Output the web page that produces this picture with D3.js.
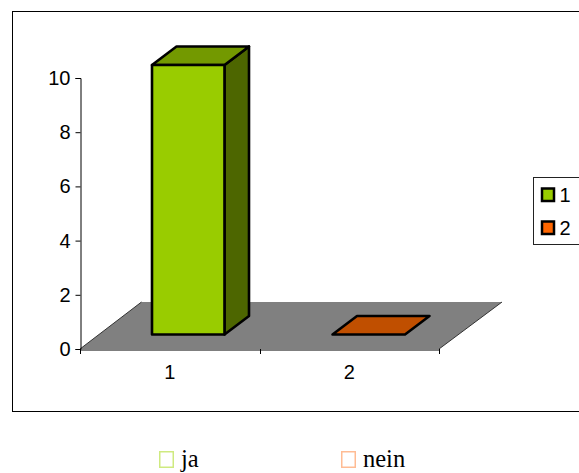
<!DOCTYPE html>
<html><head><meta charset="utf-8">
<script src="https://cdn.jsdelivr.net/npm/d3@7/dist/d3.min.js"></script>
<style>html,body{margin:0;padding:0;background:#fff;overflow:hidden}svg{display:block}</style>
</head><body><div id="c"></div>
<script>
const categories = ["1", "2"];
const values = [10, 0];
const yTicks = [0, 2, 4, 6, 8, 10];
const frontColors = ["#99CC00", "#C04F00"];
const topColors = ["#739900", "#C04F00"];
const sideColors = ["#4D6600", "#602800"];
const legendColors = ["#99CC00", "#FF6600"];
const legendLabels = ["1", "2"];
const noteLabels = ["ja", "nein"];
const noteColors = ["#CFEA80", "#FFBC94"];

const W = 579, H = 473;
const svg = d3.select("#c").append("svg").attr("width", W).attr("height", H);
const font = "'Liberation Sans', Arial, sans-serif";
const axisSize = 20;

svg.append("rect").attr("x", 12.5).attr("y", 11.5).attr("width", 600).attr("height", 400)
  .attr("fill", "#fff").attr("stroke", "#000");

const y = d3.scaleLinear().domain([0, 10]).range([349, 78]);
const x = d3.scaleBand().domain(categories).range([80, 439]);
const floorDX = 61.5, floorDY = -47;
const lineGen = d3.line();

// floor
svg.append("path")
  .attr("d", lineGen([[x.range()[0], y(0)], [x.range()[0] + floorDX, y(0) + floorDY],
    [x.range()[1] + floorDX + 1.5, y(0) + floorDY], [x.range()[1], y(0)]]) + "Z")
  .attr("fill", "#808080").attr("stroke", "none");
svg.append("path")
  .attr("d", lineGen([[x.range()[0], y(0)], [x.range()[0] + floorDX, y(0) + floorDY]]))
  .attr("stroke", "#333").attr("fill", "none");
svg.append("path")
  .attr("d", lineGen([[x.range()[1], y(0)], [x.range()[1] + floorDX + 1.5, y(0) + floorDY]]))
  .attr("stroke", "#333").attr("fill", "none");

// axes
const yAxis = d3.axisLeft(y).tickValues(yTicks).tickSize(5).tickPadding(5);
const gy = svg.append("g").attr("transform", "translate(80.5,0)").call(yAxis);
gy.selectAll("text").attr("font-family", font).attr("font-size", axisSize).attr("fill", "#000");
gy.selectAll("path,line").attr("stroke", "#000");

const xAxis = d3.axisBottom(x).tickSize(0).tickPadding(15);
const gx = svg.append("g").attr("transform", "translate(0,349.5)").call(xAxis);
gx.select("path").attr("stroke", "#000");
gx.selectAll("text").attr("font-family", font).attr("font-size", axisSize).attr("fill", "#000");
svg.append("g").selectAll("line").data([80, 260, 439]).join("line")
  .attr("x1", d => d + 0.5).attr("x2", d => d + 0.5).attr("y1", 349).attr("y2", 354).attr("stroke", "#000");

// 3D bars
const barW = 72.5, depthX = 24.5, depthY = -18.5, baseY = -14.5, barShift = 18.5;
const barLeft = c => x(c) + (x.bandwidth() - barW) / 2 + barShift + categories.indexOf(c);
const bars = svg.append("g").selectAll("g").data(categories).join("g");
bars.each(function (c, i) {
  const g = d3.select(this);
  const x0 = barLeft(c), x1 = x0 + barW;
  const yb = y(0) + baseY, yt = yb - (y(0) - y(values[i])) * 0.9945;
  const face = (pts, fill) => g.append("path").attr("d", lineGen(pts) + "Z").attr("fill", fill)
    .attr("stroke", "#000").attr("stroke-width", 2.6).attr("stroke-linejoin", "round");
  if (values[i] > 0) {
    face([[x1, yt], [x1 + depthX, yt + depthY], [x1 + depthX, yb + depthY], [x1, yb]], sideColors[i]);
    face([[x0, yt], [x0 + depthX, yt + depthY], [x1 + depthX, yt + depthY], [x1, yt]], topColors[i]);
    face([[x0, yt], [x1, yt], [x1, yb], [x0, yb]], frontColors[i]);
  } else {
    face([[x0, yb], [x0 + depthX, yb + depthY], [x1 + depthX, yb + depthY], [x1, yb]], topColors[i]);
  }
});

// legend
svg.append("rect").attr("x", 533.5).attr("y", 177.5).attr("width", 60).attr("height", 67)
  .attr("fill", "#fff").attr("stroke", "#222");
const leg = svg.append("g").selectAll("g").data(legendLabels).join("g")
  .attr("transform", (d, i) => `translate(542,${188.5 + i * 33})`);
leg.append("rect").attr("width", 12).attr("height", 12.5)
  .attr("fill", (d, i) => legendColors[i]).attr("stroke", "#000").attr("stroke-width", 2.5);
leg.append("text").attr("x", 17.5).attr("y", 13).attr("font-family", font).attr("font-size", axisSize)
  .attr("fill", "#000").text(d => d);

// note row below chart
const noteX = [159, 341];
const note = svg.append("g").selectAll("g").data(noteLabels).join("g")
  .attr("transform", (d, i) => `translate(${noteX[i]},451)`);
note.append("rect").attr("x", 0.75).attr("y", 0.75).attr("width", 13.5).attr("height", 15.5)
  .attr("fill", "#fff").style("stroke", (d, i) => noteColors[i]).style("stroke-width", 1.5);
note.append("text").attr("x", 22).attr("y", 16).attr("font-family", "'Liberation Serif','Times New Roman',serif")
  .attr("font-size", 24.5).attr("fill", "#000").text(d => d);
</script></body></html>
